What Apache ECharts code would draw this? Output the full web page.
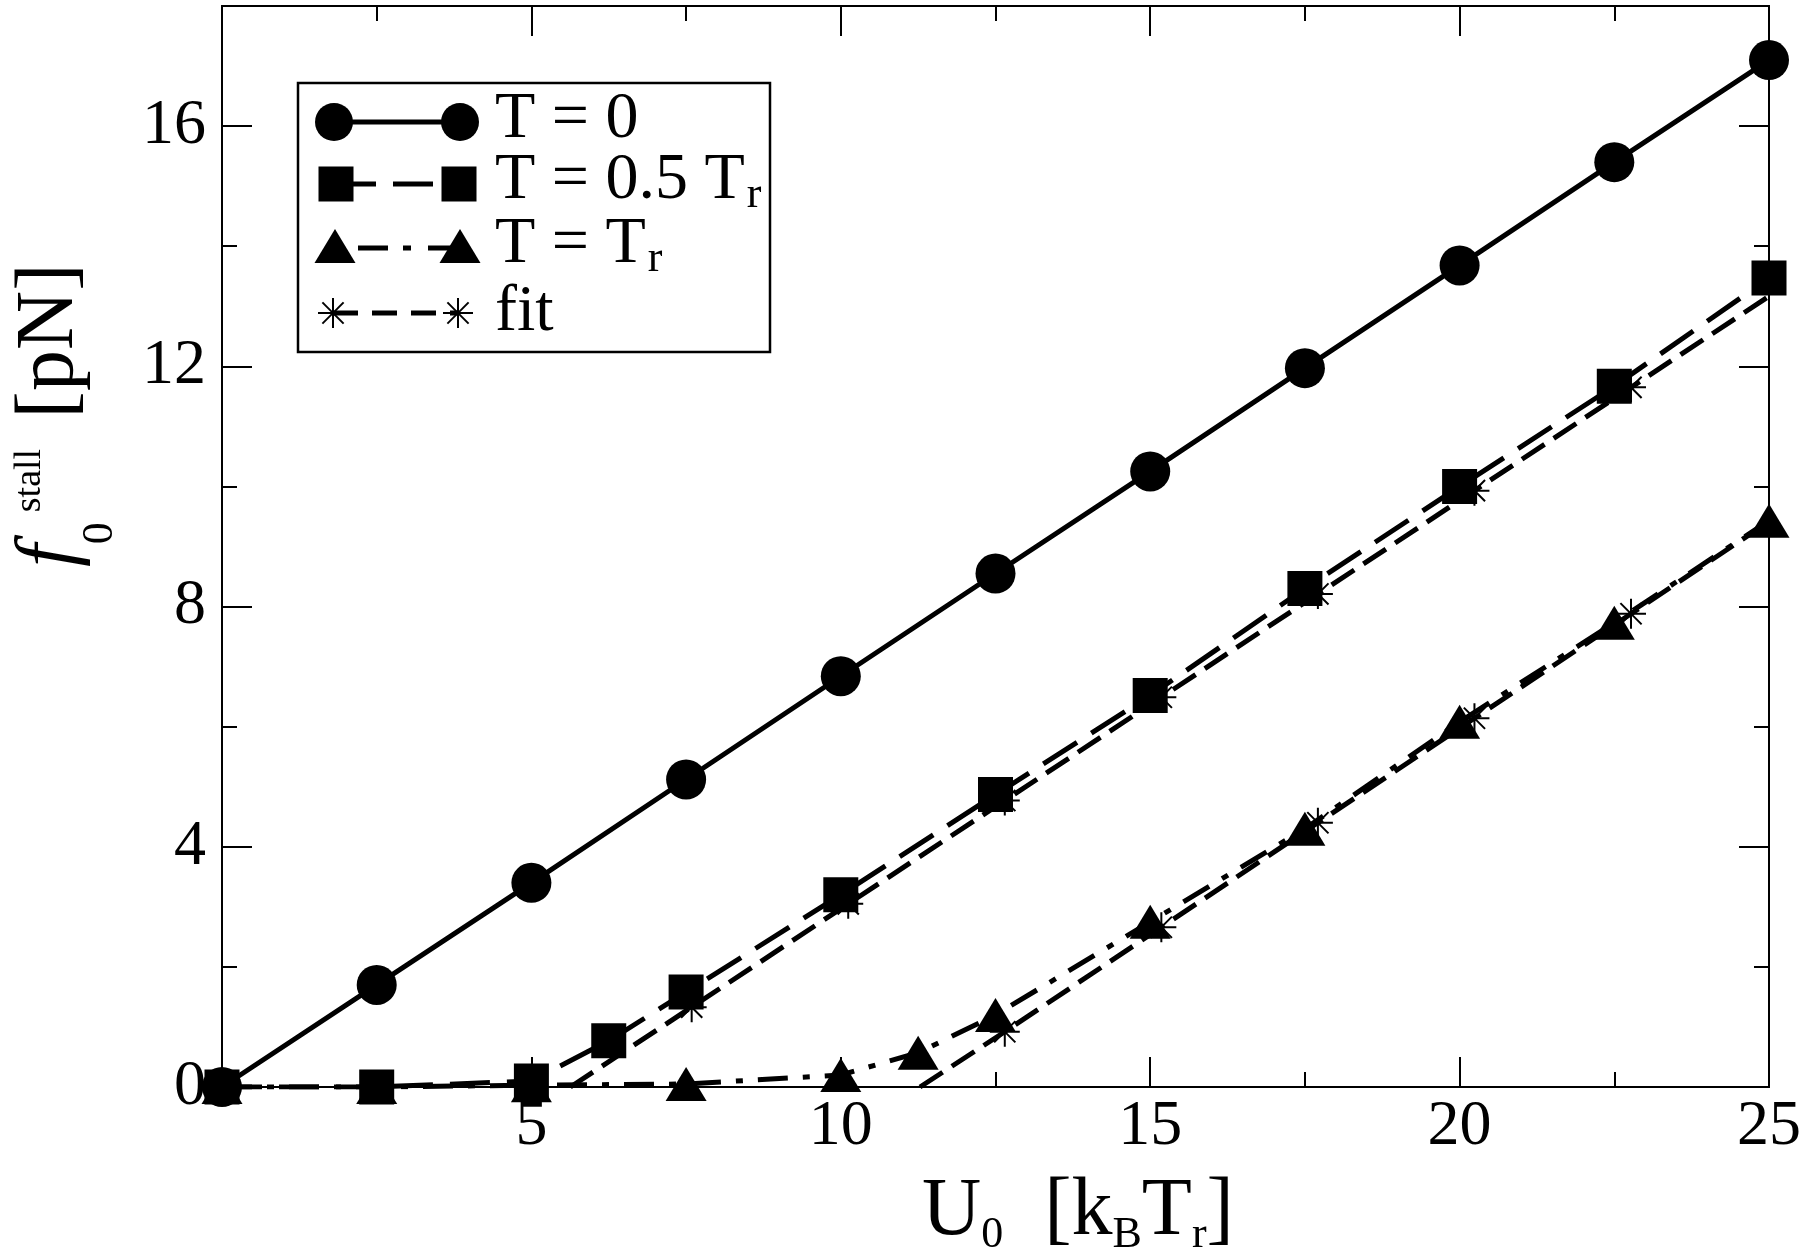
<!DOCTYPE html>
<html>
<head>
<meta charset="utf-8">
<script src="https://cdn.jsdelivr.net/npm/echarts@6.0.0/dist/echarts.min.js"></script>
<style>
html,body{margin:0;padding:0;background:#fff}
#chart{width:1804px;height:1260px}
</style>
</head>
<body>
<div id="chart"></div>
<script>
// ---------------- data ----------------
const U0_T0 = [0, 2.5, 5, 7.5, 10, 12.5, 15, 17.5, 20, 22.5, 25];
const f_T0  = [0, 1.7, 3.4, 5.12, 6.84, 8.55, 10.25, 11.97, 13.68, 15.4, 17.1];

const U0_half = [0, 2.5, 5, 6.25, 7.5, 10, 12.5, 15, 17.5, 20, 22.5, 25];
const f_half  = [0, 0, 0.1, 0.77, 1.58, 3.2, 4.87, 6.52, 8.3, 10.0, 11.67, 13.47];

const U0_Tr = [0, 2.5, 5, 7.5, 10, 11.25, 12.5, 15, 17.5, 20, 22.5, 25];
const f_Tr  = [0, 0, 0.03, 0.05, 0.2, 0.57, 1.2, 2.75, 4.3, 6.08, 7.73, 9.43];

const U0_fitHalf = [5.63, 7.59, 10.12, 12.65, 15.18, 17.71, 20.24, 22.77, 25.3];
const f_fitHalf  = [0, 1.33, 3.05, 4.77, 6.49, 8.21, 9.93, 11.65, 13.37];

const U0_fitTr = [11.28, 12.65, 15.18, 17.71, 20.24, 22.77, 25.3];
const f_fitTr  = [0, 0.92, 2.66, 4.4, 6.14, 7.88, 9.62];

const xTicksMajor = [0, 5, 10, 15, 20, 25];
const yTicksMajor = [0, 4, 8, 12, 16];

const legendNames = ['T = 0', 'T = 0.5 T_r', 'T = T_r', 'fit'];

// ---------------- helpers ----------------
const FONT = "'Liberation Serif', 'Times New Roman', serif";
const BLACK = '#000';
const pairs = (xs, ys) => xs.map((x, i) => [x, ys[i]]);
const fitData = (xs, ys) => xs.map((x, i) => i === 0 ? { value: [x, ys[i]], symbol: 'none' } : [x, ys[i]]);
const STAR = 'path://M0,10L20,10M10,0L10,20M2.93,2.93L17.07,17.07M17.07,2.93L2.93,17.07';

function xAxisDef(pos, showLabel) {
  return {
    type: 'value', min: 0, max: 25, interval: 5, position: pos, gridIndex: 0,
    axisLine: { show: true, onZero: false, lineStyle: { color: BLACK, width: 2 } },
    axisTick: { show: true, inside: true, length: 30, lineStyle: { color: BLACK, width: 2 } },
    minorTick: { show: true, splitNumber: 2, length: 15, lineStyle: { color: BLACK, width: 2 } },
    splitLine: { show: false }, minorSplitLine: { show: false },
    axisLabel: {
      show: showLabel, fontFamily: FONT, fontSize: 64, color: BLACK, margin: 8,
      formatter: v => (xTicksMajor.indexOf(v) >= 0 && v !== 0) ? String(v) : ''
    }
  };
}
function yAxisDef(pos, interval, len, showLabel) {
  return {
    type: 'value', min: 0, max: 18, interval: interval, position: pos, gridIndex: 0,
    axisLine: { show: true, onZero: false, lineStyle: { color: BLACK, width: 2 } },
    axisTick: { show: true, inside: true, length: len, lineStyle: { color: BLACK, width: 2 } },
    splitLine: { show: false },
    axisLabel: {
      show: showLabel, fontFamily: FONT, fontSize: 64, color: BLACK, margin: 16,
      formatter: v => yTicksMajor.indexOf(v) >= 0 ? String(v) : ''
    }
  };
}

// ---------------- legend (drawn as graphic) ----------------
const richLeg = {
  a: { fontFamily: FONT, fontSize: 66, fill: BLACK, verticalAlign: 'top' },
  r: { fontFamily: FONT, fontSize: 44, fill: BLACK, verticalAlign: 'top', padding: [25, 0, 0, 2] }
};
function legText(y, str) {
  return { type: 'text', x: 495, y: y, z: 101,
    style: { text: str, rich: richLeg, align: 'left', verticalAlign: 'top', fill: BLACK } };
}
function starLines(cx, cy, r) {
  const d = r * 0.7071;
  const st = { stroke: BLACK, lineWidth: 2 };
  return [
    { type: 'line', z: 101, shape: { x1: cx - r, y1: cy, x2: cx + r, y2: cy }, style: st },
    { type: 'line', z: 101, shape: { x1: cx, y1: cy - r, x2: cx, y2: cy + r }, style: st },
    { type: 'line', z: 101, shape: { x1: cx - d, y1: cy - d, x2: cx + d, y2: cy + d }, style: st },
    { type: 'line', z: 101, shape: { x1: cx + d, y1: cy - d, x2: cx - d, y2: cy + d }, style: st }
  ];
}
function tri(cx, cy) {
  return { type: 'polygon', z: 101, shape: { points: [[cx, cy - 17], [cx + 20.5, cy + 17], [cx - 20.5, cy + 17]] }, style: { fill: BLACK } };
}
const legendGraphics = [
  { type: 'rect', z: 100, shape: { x: 298, y: 83, width: 472, height: 269 }, style: { fill: '#fff', stroke: BLACK, lineWidth: 2.5 } },
  // row 1
  { type: 'line', z: 101, shape: { x1: 334, y1: 122, x2: 460, y2: 122 }, style: { stroke: BLACK, lineWidth: 5 } },
  { type: 'circle', z: 101, shape: { cx: 334, cy: 122, r: 19 }, style: { fill: BLACK } },
  { type: 'circle', z: 101, shape: { cx: 460, cy: 122, r: 19 }, style: { fill: BLACK } },
  legText(87, '{a|T = 0}'),
  // row 2
  { type: 'line', z: 101, shape: { x1: 336, y1: 184, x2: 459, y2: 184 }, style: { stroke: BLACK, lineWidth: 5, lineDash: [40, 17] } },
  { type: 'rect', z: 101, shape: { x: 318.5, y: 166.5, width: 35, height: 35 }, style: { fill: BLACK } },
  { type: 'rect', z: 101, shape: { x: 441.5, y: 166.5, width: 35, height: 35 }, style: { fill: BLACK } },
  legText(148, '{a|T = 0.5 T}{r|r}'),
  // row 3
  { type: 'line', z: 101, shape: { x1: 358, y1: 248, x2: 460, y2: 248 }, style: { stroke: BLACK, lineWidth: 5, lineDash: [30, 15, 8, 17] } },
  tri(335, 246), tri(460, 246),
  legText(212, '{a|T = T}{r|r}'),
  // row 4
  { type: 'line', z: 101, shape: { x1: 333, y1: 313, x2: 458, y2: 313 }, style: { stroke: BLACK, lineWidth: 5, lineDash: [25, 14] } }
].concat(starLines(333, 313, 15), starLines(458, 313, 15), [legText(280, '{a|fit}')]);

// ---------------- axis titles ----------------
const titleGraphics = [
  { type: 'text', x: 922, y: 1171, z: 101,
    style: {
      text: '{m|U}{s|0}{m|  [k}{s|B}{m|T}{s|r}{m|]}', align: 'left', verticalAlign: 'top', fill: BLACK,
      rich: {
        m: { fontFamily: FONT, fontSize: 82, fill: BLACK, verticalAlign: 'top' },
        s: { fontFamily: FONT, fontSize: 44, fill: BLACK, verticalAlign: 'top', padding: [42, 0, 0, 0] }
      }
    } },
  { type: 'text', x: 9, y: 567, rotation: Math.PI / 2, z: 101,
    style: {
      text: '{f|f}{sub|0}{sup|stall}{m| [pN]}', align: 'left', verticalAlign: 'top', fill: BLACK,
      rich: {
        f: { fontFamily: FONT, fontSize: 82, fontStyle: 'italic', fill: BLACK, verticalAlign: 'top' },
        sub: { fontFamily: FONT, fontSize: 44, fill: BLACK, verticalAlign: 'top', padding: [69, 0, 0, 0] },
        sup: { fontFamily: FONT, fontSize: 38, fill: BLACK, verticalAlign: 'top', padding: [2, 0, 0, 10] },
        m: { fontFamily: FONT, fontSize: 82, fill: BLACK, verticalAlign: 'top', padding: [0, 0, 0, 10] }
      }
    } }
];

// ---------------- chart ----------------
const chart = echarts.init(document.getElementById('chart'), null, { renderer: 'canvas' });
const baseSeries = { type: 'line', xAxisIndex: 0, yAxisIndex: 0, clip: true, animation: false, silent: true };
chart.setOption({
  animation: false,
  backgroundColor: '#fff',
  grid: { left: 222, right: 34, top: 6, bottom: 173, containLabel: false },
  xAxis: [xAxisDef('bottom', true), xAxisDef('top', false)],
  yAxis: [
    yAxisDef('left', 4, 30, true),
    yAxisDef('left', 2, 15, false),
    yAxisDef('right', 4, 30, false),
    yAxisDef('right', 2, 15, false)
  ],
  series: [
    Object.assign({}, baseSeries, {
      name: legendNames[0], data: pairs(U0_T0, f_T0),
      symbol: 'circle', symbolSize: 40,
      lineStyle: { color: BLACK, width: 5, type: 'solid' },
      itemStyle: { color: BLACK }
    }),
    Object.assign({}, baseSeries, {
      name: legendNames[1], data: pairs(U0_half, f_half),
      symbol: 'rect', symbolSize: 35,
      lineStyle: { color: BLACK, width: 5, type: [40, 17] },
      itemStyle: { color: BLACK }
    }),
    Object.assign({}, baseSeries, {
      name: legendNames[2], data: pairs(U0_Tr, f_Tr),
      symbol: 'triangle', symbolSize: [41, 34],
      lineStyle: { color: BLACK, width: 5, type: [30, 15, 7, 15] },
      itemStyle: { color: BLACK }
    }),
    Object.assign({}, baseSeries, {
      name: legendNames[3], data: fitData(U0_fitHalf, f_fitHalf),
      symbol: STAR, symbolSize: 30,
      lineStyle: { color: BLACK, width: 5, type: [27, 11] },
      itemStyle: { color: BLACK, borderColor: BLACK, borderWidth: 2 }
    }),
    Object.assign({}, baseSeries, {
      name: legendNames[3] + ' ', data: fitData(U0_fitTr, f_fitTr),
      symbol: STAR, symbolSize: 30,
      lineStyle: { color: BLACK, width: 5, type: [27, 11] },
      itemStyle: { color: BLACK, borderColor: BLACK, borderWidth: 2 }
    })
  ],
  graphic: legendGraphics.concat(titleGraphics)
});
</script>
</body>
</html>
